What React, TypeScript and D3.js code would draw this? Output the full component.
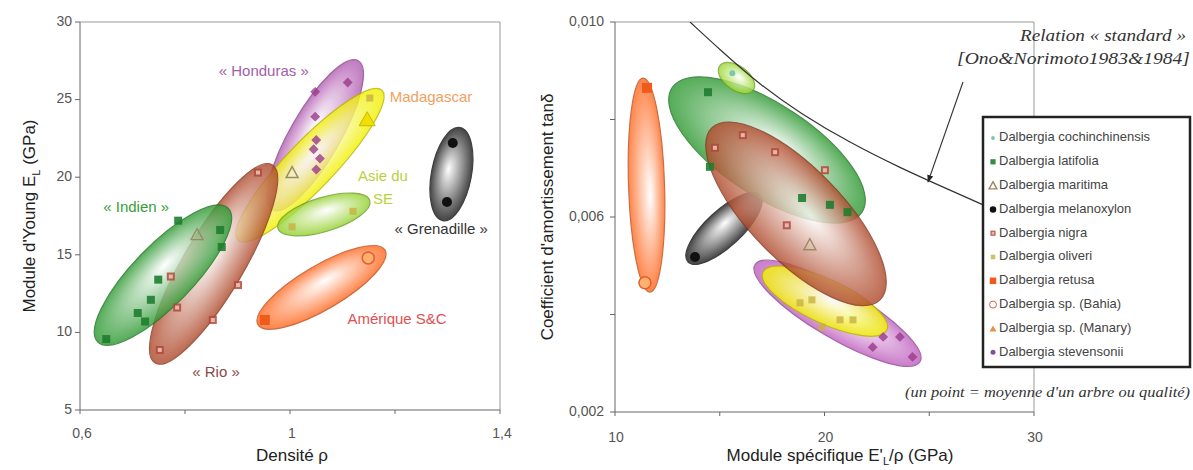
import React from "react";
import * as d3 from "d3";

// ---- data, left panel : E_L vs density ----
const densityTicks = [0.6, 0.8, 1, 1.2, 1.4];
const densityLabels = ["0,6", "", "1", "", "1,4"];
const youngTicks = [5, 10, 15, 20, 25, 30];

const leftLatifolia = [[0.65, 9.57], [0.71, 11.25], [0.724, 10.7], [0.735, 12.1], [0.749, 13.4], [0.787, 17.2], [0.867, 16.6], [0.87, 15.5]];
const leftNigra = [[0.752, 8.87], [0.853, 10.8], [0.901, 13.05], [0.939, 20.3], [0.773, 13.6], [0.785, 11.6]];
const leftMaritima = [[0.823, 16.3], [1.004, 20.3]];
const leftManary = [[1.147, 23.7]];
const leftStevensonii = [[1.11, 26.1], [1.048, 25.5], [1.048, 23.9], [1.05, 22.4], [1.057, 21.2], [1.05, 20.5], [1.045, 21.8]];
const leftOliveri = [[1.12, 17.8], [1.004, 16.8], [1.152, 25.1]];
const leftMelanoxylon = [[1.31, 22.2], [1.299, 18.4]];
const leftRetusa = [[0.952, 10.8]];
const leftBahia = [[1.149, 14.8]];

// groups : [x1, y1, x2, y2] ends of the long axis, in data units
const leftGroups = [
  { name: "honduras", ends: [0.966, 17.9, 1.13, 27.5], color: "#b45fb4", w: 25 },
  { name: "madagascar", ends: [0.901, 15.95, 1.175, 25.6], color: "#f2f000", w: 24 },
  { name: "rio", ends: [0.743, 8.03, 0.966, 20.8], color: "#b04a2c", w: 30 },
  { name: "indien", ends: [0.634, 9.38, 0.882, 18.0], color: "#2f9a33", w: 30 },
  { name: "asie", ends: [0.977, 16.7, 1.152, 18.5], color: "#94d22e", w: 17 },
  { name: "grenadille", ends: [1.291, 17.2, 1.324, 23.2], color: "#1c1c1c", w: 20 },
  { name: "amerique", ends: [0.939, 10.5, 1.181, 15.3], color: "#ff6a22", w: 22 },
];

const leftLabels = [
  { text: "« Honduras »", x: 0.95, y: 26.8, color: "#a060a8", anchor: "middle" },
  { text: "Madagascar", x: 1.19, y: 25.1, color: "#f2a060", anchor: "start" },
  { text: "Asie du", x: 1.177, y: 20.0, color: "#b8d23a", anchor: "middle" },
  { text: "SE", x: 1.177, y: 18.5, color: "#b8d23a", anchor: "middle" },
  { text: "« Grenadille »", x: 1.288, y: 16.6, color: "#333333", anchor: "middle" },
  { text: "« Indien »", x: 0.707, y: 18.0, color: "#36a036", anchor: "middle" },
  { text: "« Rio »", x: 0.859, y: 7.4, color: "#8a4848", anchor: "middle" },
  { text: "Amérique S&C", x: 1.204, y: 10.8, color: "#e05050", anchor: "middle" },
];

// ---- data, right panel : tan delta vs specific modulus ----
const modulusTicks = [10, 15, 20, 25, 30];
const modulusLabels = ["10", "", "20", "", "30"];
const tanTicks = [0.002, 0.004, 0.006, 0.008, 0.01];
const tanLabels = ["0,002", "", "0,006", "", "0,010"];

const rightRetusa = [[11.53, 0.00865]];
const rightBahia = [[11.43, 0.00465]];
const rightLatifolia = [[14.44, 0.00856], [14.53, 0.00703], [18.93, 0.00639], [20.26, 0.00625], [21.1, 0.0061]];
const rightCochin = [[15.6, 0.00895]];
const rightNigra = [[14.77, 0.00742], [18.2, 0.00583], [20.02, 0.00696], [17.64, 0.00733], [16.1, 0.00768]];
const rightMelanoxylon = [[13.82, 0.00518]];
const rightManary = [[19.3, 0.00543]];
const rightOliveri = [[18.83, 0.00424], [19.4, 0.0043], [19.88, 0.00374], [20.74, 0.00389], [21.36, 0.00389]];
const rightStevensonii = [[22.3, 0.00333], [22.8, 0.00354], [23.6, 0.00354], [24.2, 0.00313]];

const rightGroups = [
  { name: "r-retusa", ends: [11.34, 0.00885, 11.67, 0.00446], color: "#ff6a22", w: 18 },
  { name: "r-stev", ends: [16.68, 0.00502, 24.56, 0.00303], color: "#c060c0", w: 25 },
  { name: "r-oliv", ends: [17.06, 0.00487, 22.98, 0.00368], color: "#f2f000", w: 22 },
  { name: "r-mela", ends: [13.48, 0.00508, 16.92, 0.00645], color: "#1c1c1c", w: 18 },
  { name: "r-lati", ends: [12.72, 0.00865, 21.79, 0.0061], color: "#2f9a33", w: 46 },
  { name: "r-cochin", ends: [15.0, 0.0091, 16.6, 0.0086], color: "#9ad830", w: 12 },
  { name: "r-nigra", ends: [14.63, 0.00783, 22.65, 0.0043], color: "#b04a2c", w: 46 },
];

// standard relation [Ono & Norimoto]
const standardCurve = [
  [13.58, 0.01], [15.01, 0.00943], [16.92, 0.00871], [18.83, 0.00813], [21.22, 0.00752],
  [23.6, 0.00701], [25.99, 0.00655], [27.57, 0.00625], [28.85, 0.006],
];

const legendNames = [
  "Dalbergia cochinchinensis", "Dalbergia latifolia", "Dalbergia maritima", "Dalbergia melanoxylon",
  "Dalbergia nigra", "Dalbergia oliveri", "Dalbergia retusa", "Dalbergia sp. (Bahia)",
  "Dalbergia sp. (Manary)", "Dalbergia stevensonii",
];
const legendKinds = ["cochin", "latifolia", "maritima", "melanoxylon", "nigra", "oliveri", "retusa", "bahiaLeg", "manaryLeg", "stevLeg"];

const FONT = "'Liberation Sans', Arial, sans-serif";
const SERIF = "'Liberation Serif', serif";

const L = { left: 80, right: 500, top: 22, bottom: 410 };
const R = { left: 615, right: 1034, top: 22, bottom: 412 };

const xL = d3.scaleLinear().domain([0.6, 1.4]).range([L.left, L.right]);
const yL = d3.scaleLinear().domain([5, 30]).range([L.bottom, L.top]);
const xR = d3.scaleLinear().domain([10, 30]).range([R.left, R.right]);
const yR = d3.scaleLinear().domain([0.002, 0.01]).range([R.bottom, R.top]);

function Marker({ kind, x, y, s = 1 }: { kind: string; x: number; y: number; s?: number }) {
  switch (kind) {
    case "latifolia":
      return <rect x={x - 4 * s} y={y - 4 * s} width={8 * s} height={8 * s} fill="#1f7d30" opacity={0.9} />;
    case "nigra":
      return (
        <g>
          <rect x={x - 4 * s} y={y - 4 * s} width={8 * s} height={8 * s} fill="#b04a38" opacity={0.85} />
          <rect x={x - 2 * s} y={y - 2 * s} width={4 * s} height={4 * s} fill="#f0d0c8" opacity={0.8} />
        </g>
      );
    case "maritima":
      return <path d={`M${x},${y - 6 * s}L${x + 6 * s},${y + 5 * s}L${x - 6 * s},${y + 5 * s}Z`} fill="none" stroke="#9a8a60" strokeWidth={1.4} />;
    case "manary":
      return <path d={`M${x},${y - 8 * s}L${x + 8 * s},${y + 6 * s}L${x - 8 * s},${y + 6 * s}Z`} fill="#f0e000" stroke="#c8b800" strokeWidth={1} />;
    case "manaryLeg":
      return <path d={`M${x},${y - 3}L${x + 3.5},${y + 3}L${x - 3.5},${y + 3}Z`} fill="#e8904a" />;
    case "melanoxylon":
      return <circle cx={x} cy={y} r={5 * s} fill="#111" />;
    case "cochin":
      return <circle cx={x} cy={y} r={3 * s} fill="#7cc8a8" />;
    case "oliveri":
      return <rect x={x - 3.5 * s} y={y - 3.5 * s} width={7 * s} height={7 * s} fill="#c8b040" opacity={0.8} />;
    case "retusa":
      return <rect x={x - 5 * s} y={y - 5 * s} width={10 * s} height={10 * s} fill="#f05a1a" />;
    case "bahia":
      return <circle cx={x} cy={y} r={6 * s} fill="#ffb070" stroke="#e06030" strokeWidth={1.5} />;
    case "bahiaLeg":
      return <circle cx={x} cy={y} r={3.5} fill="#fff" stroke="#d06050" strokeWidth={1} />;
    case "stevensonii":
      return <rect x={x - 3.5 * s} y={y - 3.5 * s} width={7 * s} height={7 * s} fill="#9a3a8a" opacity={0.8} transform={`rotate(45 ${x} ${y})`} />;
    case "stevLeg":
      return <circle cx={x} cy={y} r={2.5} fill="#8a4aa0" />;
    default:
      return null;
  }
}

function Group({ g, xs, ys }: { g: any; xs: any; ys: any }) {
  const [a, b, c, d] = g.ends;
  const x1 = xs(a), y1 = ys(b), x2 = xs(c), y2 = ys(d);
  const cx = (x1 + x2) / 2, cy = (y1 + y2) / 2;
  const rx = Math.hypot(x2 - x1, y2 - y1) / 2;
  const ang = (Math.atan2(y2 - y1, x2 - x1) * 180) / Math.PI;
  const dark = d3.color(g.color)!.darker(0.8).formatHex();
  return (
    <ellipse
      cx={0}
      cy={0}
      rx={rx}
      ry={g.w}
      transform={`translate(${cx},${cy}) rotate(${ang})`}
      fill={`url(#grad-${g.name})`}
      stroke={dark}
      strokeWidth={1.2}
      opacity={0.82}
    />
  );
}

function Gradients({ groups }: { groups: any[] }) {
  return (
    <>
      {groups.map((g) => (
        <radialGradient key={g.name} id={`grad-${g.name}`} cx="50%" cy="50%" r="50%" fx="55%" fy="40%">
          <stop offset="0%" stopColor="#ffffff" />
          <stop offset="35%" stopColor={d3.interpolateRgb("#ffffff", g.color)(0.35)} />
          <stop offset="100%" stopColor={g.color} />
        </radialGradient>
      ))}
    </>
  );
}

function Points({ sets, xs, ys }: { sets: [string, number[][]][]; xs: any; ys: any }) {
  return (
    <>
      {sets.map(([kind, pts]) =>
        pts.map((p, i) => <Marker key={kind + i} kind={kind} x={xs(p[0])} y={ys(p[1])} />)
      )}
    </>
  );
}

export default function App() {
  const curve = d3
    .line<number[]>()
    .x((d) => xR(d[0]))
    .y((d) => yR(d[1]))
    .curve(d3.curveBasis)(standardCurve);

  const legX = 983, legY = 117, legW = 207, legH = 250;
  const rowH = 23.8;

  return (
    <div style={{ position: "absolute", left: 0, top: 0 }}>
      <svg width={1193} height={470} style={{ display: "block", background: "#fff" }} fontFamily={FONT}>
        <defs>
          <Gradients groups={[...leftGroups, ...rightGroups]} />
          <clipPath id="clipR">
            <rect x={R.left} y={R.top} width={1193 - R.left} height={R.bottom - R.top} />
          </clipPath>
          <marker id="arrow" viewBox="0 0 10 10" refX="9" refY="5" markerWidth="7" markerHeight="7" orient="auto">
            <path d="M0,1L10,5L0,9Z" fill="#222" />
          </marker>
        </defs>

        {/* ---------- left panel ---------- */}
        <line x1={L.left} x2={L.right} y1={L.top} y2={L.top} stroke="#999" />
        <line x1={L.right} x2={L.right} y1={L.top} y2={L.bottom} stroke="#999" />
        {leftGroups.map((g) => (
          <Group key={g.name} g={g} xs={xL} ys={yL} />
        ))}
        <Points
          xs={xL}
          ys={yL}
          sets={[
            ["latifolia", leftLatifolia], ["nigra", leftNigra], ["maritima", leftMaritima], ["manary", leftManary],
            ["stevensonii", leftStevensonii], ["oliveri", leftOliveri], ["melanoxylon", leftMelanoxylon],
            ["retusa", leftRetusa], ["bahia", leftBahia],
          ]}
        />
        {leftLabels.map((t) => (
          <text key={t.text} x={xL(t.x)} y={yL(t.y)} fill={t.color} fontSize={15} textAnchor={t.anchor as any} dominantBaseline="middle">
            {t.text}
          </text>
        ))}
        <line x1={L.left} x2={L.left} y1={L.top} y2={L.bottom} stroke="#666" />
        <line x1={L.left} x2={L.right} y1={L.bottom} y2={L.bottom} stroke="#666" />
        {youngTicks.map((v) => (
          <g key={v}>
            <line x1={L.left - 5} x2={L.left} y1={yL(v)} y2={yL(v)} stroke="#666" />
            <text x={L.left - 8} y={yL(v)} fontSize={14} fill="#555" textAnchor="end" dominantBaseline="middle">{v}</text>
          </g>
        ))}
        {densityTicks.map((v, i) => (
          <g key={v}>
            <line x1={xL(v)} x2={xL(v)} y1={L.bottom} y2={L.bottom + 4} stroke="#666" />
            <text x={xL(v) + 2} y={L.bottom + 28} fontSize={14} fill="#555" textAnchor="middle">{densityLabels[i]}</text>
          </g>
        ))}
        <text x={292} y={461} fontSize={17} fill="#222" textAnchor="middle">Densité ρ</text>
        <text transform={`translate(35,${(L.top + L.bottom) / 2}) rotate(-90)`} fontSize={17} fill="#222" textAnchor="middle">
          Module d'Young E<tspan fontSize={11} dy={5}>L</tspan><tspan dy={-5}> (GPa)</tspan>
        </text>

        {/* ---------- right panel ---------- */}
        <line x1={R.left} x2={R.right} y1={R.top} y2={R.top} stroke="#999" />
        <line x1={R.right} x2={R.right} y1={R.top} y2={R.bottom} stroke="#999" />
        <g clipPath="url(#clipR)">
          {rightGroups.map((g) => (
            <Group key={g.name} g={g} xs={xR} ys={yR} />
          ))}
        </g>
        <Points
          xs={xR}
          ys={yR}
          sets={[
            ["retusa", rightRetusa], ["bahia", rightBahia], ["latifolia", rightLatifolia], ["cochin", rightCochin],
            ["nigra", rightNigra], ["melanoxylon", rightMelanoxylon], ["maritima", rightManary],
            ["oliveri", rightOliveri], ["stevensonii", rightStevensonii],
          ]}
        />
        <g clipPath="url(#clipR)">
          <path d={curve ?? ""} fill="none" stroke="#333" strokeWidth={1.2} />
        </g>
        <line x1={963} y1={82} x2={928} y2={182} stroke="#333" strokeWidth={1.1} markerEnd="url(#arrow)" />
        <text x={1186} y={41} fontSize={17} fontFamily={SERIF} fontStyle="italic" fill="#333" textAnchor="end" textLength={166} lengthAdjust="spacingAndGlyphs">
          Relation « standard »
        </text>
        <text x={1190} y={64} fontSize={17} fontFamily={SERIF} fontStyle="italic" fill="#333" textAnchor="end" textLength={233} lengthAdjust="spacingAndGlyphs">
          [Ono&amp;Norimoto1983&amp;1984]
        </text>

        <line x1={R.left} x2={R.left} y1={R.top} y2={R.bottom} stroke="#666" />
        <line x1={R.left} x2={R.right} y1={R.bottom} y2={R.bottom} stroke="#666" />
        {tanTicks.map((v, i) => (
          <g key={v}>
            <line x1={R.left - 5} x2={R.left} y1={yR(v)} y2={yR(v)} stroke="#666" />
            <text x={R.left - 11} y={yR(v)} fontSize={14} fill="#555" textAnchor="end" dominantBaseline="middle">{tanLabels[i]}</text>
          </g>
        ))}
        {modulusTicks.map((v, i) => (
          <g key={v}>
            <line x1={xR(v)} x2={xR(v)} y1={R.bottom} y2={R.bottom + 4} stroke="#666" />
            <text x={xR(v) + 1} y={R.bottom + 30} fontSize={14} fill="#555" textAnchor="middle">{modulusLabels[i]}</text>
          </g>
        ))}
        <text x={840} y={461} fontSize={17} fill="#222" textAnchor="middle">
          Module spécifique E'<tspan fontSize={11} dy={4}>L</tspan><tspan dy={-4}>/ρ (GPa)</tspan>
        </text>
        <text transform={`translate(553,${(R.top + R.bottom) / 2}) rotate(-90)`} fontSize={17} fill="#222" textAnchor="middle">
          Coefficient d'amortissement tanδ
        </text>
        <text x={1190} y={397} fontSize={15.5} fontFamily={SERIF} fontStyle="italic" fill="#333" textAnchor="end" textLength={285} lengthAdjust="spacingAndGlyphs">
          (un point = moyenne d'un arbre ou qualité)
        </text>

        {/* legend */}
        <rect x={legX} y={legY} width={legW} height={legH} fill="#fff" stroke="#222" strokeWidth={2.5} />
        {legendNames.map((n, i) => {
          const cy = legY + 21 + i * rowH;
          return (
            <g key={n}>
              <Marker kind={legendKinds[i]} x={legX + 10} y={cy} s={0.65} />
              <text x={legX + 16} y={cy} fontSize={13} fill="#444" dominantBaseline="middle">{n}</text>
            </g>
          );
        })}
      </svg>
    </div>
  );
}
